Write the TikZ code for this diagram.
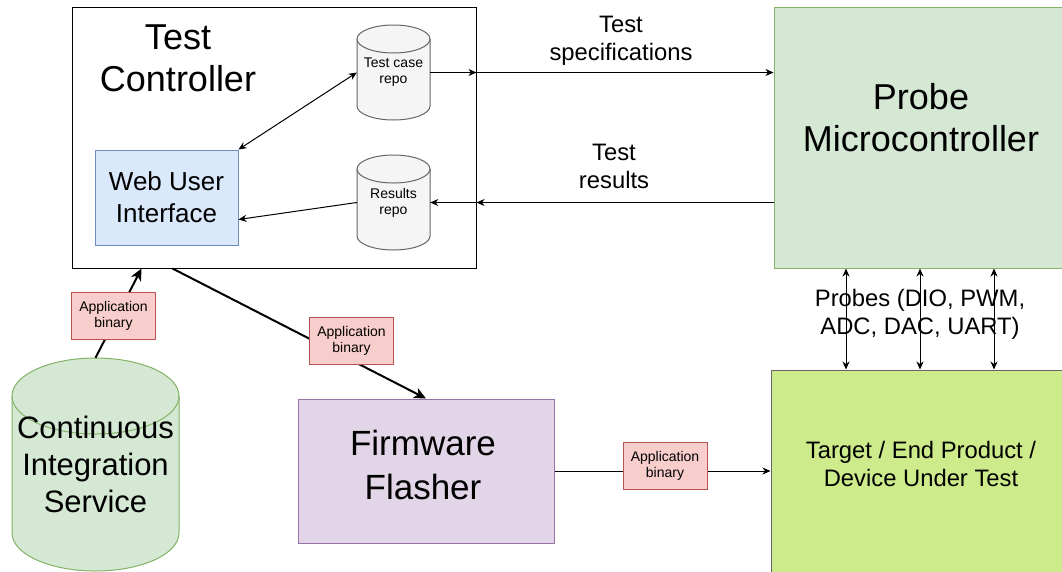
\documentclass[tikz,border=0pt]{standalone}
\usepackage{fontspec}
\setmainfont{Liberation Sans}
\usetikzlibrary{arrows.meta,calc}

\definecolor{blueFill}{HTML}{DAE8FC}
\definecolor{blueLine}{HTML}{6C8EBF}
\definecolor{greyFill}{HTML}{F5F5F5}
\definecolor{greyLine}{HTML}{666666}
\definecolor{greenFill}{HTML}{D5E8D4}
\definecolor{greenLine}{HTML}{82B366}
\definecolor{purpleFill}{HTML}{E1D5E7}
\definecolor{purpleLine}{HTML}{9673A6}
\definecolor{limeFill}{HTML}{CDEB8B}
\definecolor{limeLine}{HTML}{666666}
\definecolor{redFill}{HTML}{F8CECC}
\definecolor{redLine}{HTML}{B85450}

\newcommand\txtXL{\fontsize{36pt}{42pt}\selectfont}
\newcommand\txtFL{\fontsize{35pt}{44pt}\selectfont}
\newcommand\txtCI{\fontsize{31pt}{37pt}\selectfont}
\newcommand\txtL{\fontsize{26pt}{32pt}\selectfont}
\newcommand\txtM{\fontsize{23.8pt}{28pt}\selectfont}
\newcommand\txtS{\fontsize{14pt}{16pt}\selectfont}

% cylinder outline: style, x1, y1, x2, y2, ellipse y-radius
\newcommand\drawcylinder[6]{%
  \pgfmathsetmacro\cylrx{(#4-#2)/2}%
  \path[#1] (#2,#3+#6) -- (#2,#5-#6)
    arc[start angle=180,end angle=0,x radius=\cylrx,y radius=#6]
    -- (#4,#3+#6)
    arc[start angle=0,end angle=-180,x radius=\cylrx,y radius=#6] -- cycle;
  \path[#1,fill=none] (#2,#3+#6)
    arc[start angle=180,end angle=0,x radius=\cylrx,y radius=#6];
}

\begin{document}
\begin{tikzpicture}[x=1pt,y=-1pt,
  box/.style={draw,rectangle,inner sep=0pt,line width=1pt},
  txt/.style={inner sep=0pt,align=center},
  tag/.style={box,fill=redFill,draw=redLine,align=center,font=\txtS,
    minimum width=84pt,minimum height=47pt},
  conn/.style={line width=1pt,-{Stealth[length=8pt,width=7pt,inset=2.5pt]}},
  biconn/.style={line width=1pt,{Stealth[length=8pt,width=7pt,inset=2.5pt]}-{Stealth[length=8pt,width=7pt,inset=2.5pt]}},
  thick conn/.style={line width=2pt,-{Stealth[length=12pt,width=11pt,inset=3.5pt]}},
  repo/.style={draw=greyLine,fill=greyFill,line width=1pt},
  ci/.style={draw=greenLine,fill=greenFill,line width=1pt}
]
\fill[white] (0,0) rectangle (1062,571);
\clip (0,0) rectangle (1062,571);

% Test controller container
\node[box,draw=black,minimum width=404pt,minimum height=261pt] (ctrl) at (274,137.5) {};
\node[txt,font=\txtXL] (ctrltitle) at (178,58) {Test\\Controller};

% Web UI
\node[box,draw=blueLine,fill=blueFill,minimum width=143pt,minimum height=95pt,
  font=\txtL,align=center] (webui) at (166.5,197.5) {Web User\\Interface};

% Repositories
\drawcylinder{repo}{357}{25}{430}{120}{14}
\node[inner sep=0pt,minimum width=73pt,minimum height=95pt,font=\txtS,align=center]
  (tcrepo) at (393.5,72.5) {Test case\\repo};
\drawcylinder{repo}{357}{155}{430}{250}{14}
\node[inner sep=0pt,minimum width=73pt,minimum height=95pt,font=\txtS,align=center]
  (resrepo) at (393.5,202.5) {Results\\repo};

% Probe microcontroller
\node[box,draw=greenLine,fill=greenFill,minimum width=294pt,minimum height=261pt] (probe) at (921,137.5) {};
\node[txt,font=\txtXL] (probetxt) at (921,118) {Probe\\Microcontroller};

% Target
\node[box,draw=limeLine,fill=limeFill,minimum width=298pt,minimum height=202pt] (target) at (920,471) {};
\node[txt,font=\txtM] (targettxt) at (921,464) {Target / End Product /\\Device Under Test};

% Firmware flasher
\node[box,draw=purpleLine,fill=purpleFill,minimum width=256pt,minimum height=144pt] (flasher) at (426,471) {};
\node[txt,font=\txtFL] (flashertxt) at (423,464.5) {Firmware\\Flasher};

% Continuous integration
\drawcylinder{ci}{12}{358}{179}{571}{38}
\node[inner sep=0pt,minimum width=167pt,minimum height=212pt,font=\txtCI,align=center]
  (ci) at (95.5,464) {Continuous\\Integration\\Service};

% Connectors inside the controller
\draw[biconn] (webui.north east) -- (tcrepo.west);
\draw[conn] (resrepo.west) -- ($(webui.east)+(0,22)$);

% Specifications and results
\coordinate (specout) at (ctrl.east |- tcrepo.east);
\coordinate (resin) at (ctrl.east |- resrepo.east);
\draw[conn] (tcrepo.east) -- (specout);
\draw[conn] (specout) -- (probe.west |- specout);
\draw[conn] (probe.west |- resin) -- (resin);
\draw[conn] (resin) -- (resrepo.east);
\node[txt,font=\txtM] (speclbl) at (621,41) {Test\\specifications};
\node[txt,font=\txtM] (reslbl) at (614,166) {Test\\results};

% Probe lines
\foreach \px in {846,920,994}
  \draw[biconn] (\px,0 |- probe.south) -- (\px,0 |- target.north);
\node[txt,font=\txtM] (probeslbl) at (920,314) {Probes (DIO, PWM,\\ADC, DAC, UART)};

% Application binary flow
\draw[thick conn] (ci.north) -- ($(ctrl.south west)+(70,0)$);
\draw[thick conn] ($(ctrl.south west)+(101,0)$) -- (flasher.north);
\draw[conn] (flasher.east) -- (flasher.east -| target.west);
\node[tag] (tagci) at (113.5,316) {Application\\binary};
\node[tag] (tagfl) at (351.5,340.5) {Application\\binary};
\node[tag] (tagtg) at (665,465.5) {Application\\binary};
\end{tikzpicture}
\end{document}
